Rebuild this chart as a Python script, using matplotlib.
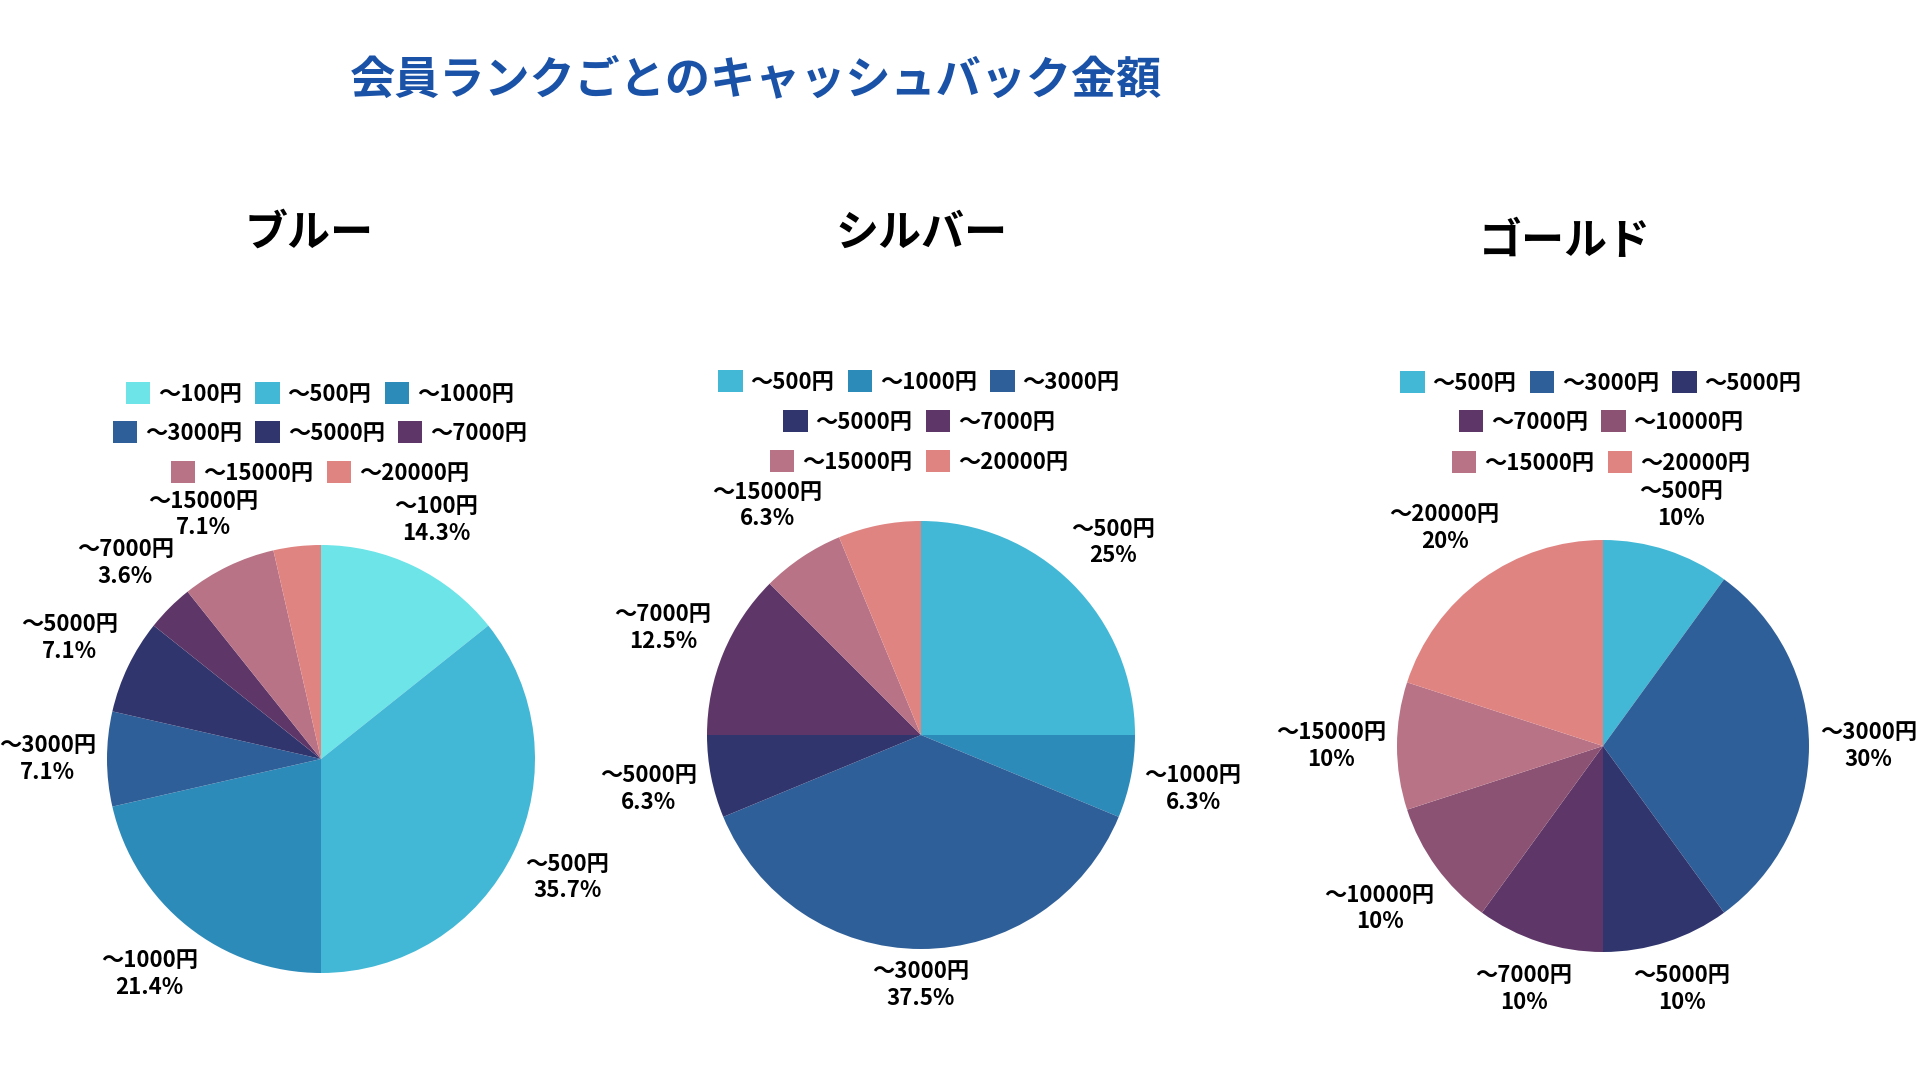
import numpy as np
import matplotlib
matplotlib.use('Agg')
import matplotlib.pyplot as plt
from matplotlib.patches import Patch

plt.rcParams['font.family'] = ['Noto Sans CJK JP', 'DejaVu Sans']

TITLE = '会員ランクごとのキャッシュバック金額'

# data (wedge sizes as counts; percentages are derived)
blue_labels = ['～100円', '～500円', '～1000円', '～3000円', '～5000円', '～7000円', '～15000円', '～20000円']
blue_values = [4, 10, 6, 2, 2, 1, 2, 1]
silver_labels = ['～500円', '～1000円', '～3000円', '～5000円', '～7000円', '～15000円', '～20000円']
silver_values = [4, 1, 6, 1, 2, 1, 1]
gold_labels = ['～500円', '～3000円', '～5000円', '～7000円', '～10000円', '～15000円', '～20000円']
gold_values = [10, 30, 10, 10, 10, 10, 20]

COLORS = {
    '～100円': '#6ce4e8',
    '～500円': '#42b8d6',
    '～1000円': '#2d8bba',
    '～3000円': '#2f5f98',
    '～5000円': '#31356e',
    '～7000円': '#5e3768',
    '～10000円': '#8b5273',
    '～15000円': '#b87386',
    '～20000円': '#e08482',
}

W, H = 1920, 1080
GAP = 11
FS = 16
pending = []


def pct_text(v, total):
    p = np.floor(v / total * 1000 + 0.5) / 10
    return f'{p:.1f}'.rstrip('0').rstrip('.') + '%'


def draw_pie(fig, center, radius, labels, values, hidden=()):
    cx, cy = center
    ax = fig.add_axes([(cx - radius) / W, 1 - (cy + radius) / H, 2 * radius / W, 2 * radius / H])
    wedges, _ = ax.pie(values, colors=[COLORS[l] for l in labels], startangle=90,
                       counterclock=False, wedgeprops=dict(linewidth=0))
    ax.set_xlim(-1, 1)
    ax.set_ylim(-1, 1)
    ax.axis('off')
    total = sum(values)
    for w, lab, v in zip(wedges, labels, values):
        if lab in hidden:
            continue
        ang = np.deg2rad((w.theta1 + w.theta2) / 2)
        u = np.array([np.cos(ang), np.sin(ang)])
        t = ax.annotate(f'{lab}\n{pct_text(v, total)}', xy=u, xytext=(0, 0),
                        textcoords='offset pixels', ha='center', va='center',
                        fontsize=FS, fontweight='bold', linespacing=1.2)
        pending.append((t, u))


def draw_legend(fig, cx, rows, ys):
    for row, y in zip(rows, ys):
        handles = [Patch(facecolor=COLORS[l], edgecolor='none') for l in row]
        fig.legend(handles=handles, labels=row, loc='center', bbox_to_anchor=(cx / W, 1 - y / H),
                   ncol=len(row), frameon=False, prop={'size': FS, 'weight': 'bold'},
                   handlelength=1.1, handleheight=1.1, handletextpad=0.35,
                   columnspacing=0.6, borderpad=0, borderaxespad=0)


fig = plt.figure(figsize=(W / 100, H / 100), dpi=100)
fig.patch.set_facecolor('white')

fig.text(756 / W, 1 - 80 / H, TITLE, ha='center', va='center', fontsize=32.5,
         fontweight='bold', color='#1a52a8')

for name, x, y in [('ブルー', 309, 233), ('シルバー', 921, 233), ('ゴールド', 1565, 241)]:
    fig.text(x / W, 1 - y / H, name, ha='center', va='center', fontsize=31, fontweight='bold')

draw_pie(fig, (321, 759), 214, blue_labels, blue_values, hidden=('～20000円',))
draw_pie(fig, (921, 735), 214, silver_labels, silver_values, hidden=('～20000円',))
draw_pie(fig, (1603, 746), 206, gold_labels, gold_values)

draw_legend(fig, 320, [blue_labels[:3], blue_labels[3:6], blue_labels[6:]], [394, 433, 473])
draw_legend(fig, 919, [silver_labels[:3], silver_labels[3:5], silver_labels[5:]], [382, 422, 462])
draw_legend(fig, 1601, [gold_labels[:3], gold_labels[3:5], gold_labels[5:]], [383, 422, 463])

# push each label out so its box sits just beyond the rim
fig.canvas.draw()
renderer = fig.canvas.get_renderer()
for t, u in pending:
    bb = t.get_window_extent(renderer)
    d = GAP + bb.width / 2 * abs(u[0]) + bb.height / 2 * abs(u[1])
    t.xyann = (u[0] * d, u[1] * d)

fig.savefig('out.png', dpi=100, facecolor='white')
